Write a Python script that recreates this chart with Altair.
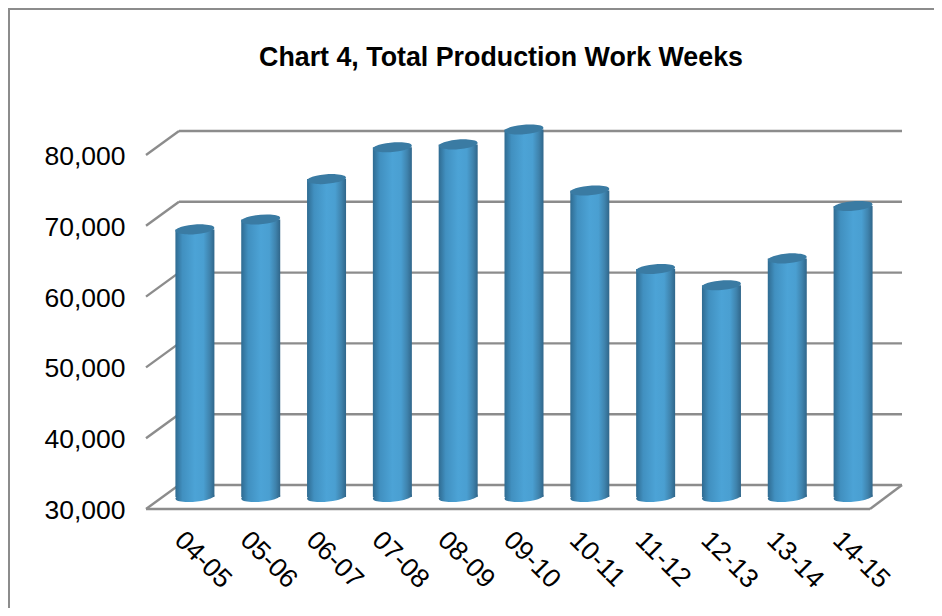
import altair as alt
import pandas as pd

categories = ["04-05", "05-06", "06-07", "07-08", "08-09", "09-10", "10-11", "11-12", "12-13", "13-14", "14-15"]
weeks = [67800, 69200, 74900, 79400, 79800, 81900, 73300, 62200, 59900, 63700, 71100]
grid_values = [30000, 40000, 50000, 60000, 70000, 80000]
TITLE = "Chart 4, Total Production Work Weeks"
FONT = "Liberation Sans"
GRID = "#8c8c8c"
# half of the chart's simulated depth, expressed in axis units (12px at 7.08 px per 1000)
DEPTH = 1695

bars = pd.DataFrame({"cat": categories, "value": weeks, "base": [30000] * len(weeks)})
grid = pd.DataFrame({"value": grid_values})
grid["back"] = grid["value"] + DEPTH
grid["front"] = grid["value"] - DEPTH
floor = grid[grid["value"] == 30000]

grad = alt.LinearGradient(
    gradient="linear", x1=0, x2=1, y1=0, y2=0,
    stops=[
        alt.GradientStop(color="#2f6b91", offset=0),
        alt.GradientStop(color="#4190c0", offset=0.18),
        alt.GradientStop(color="#4ca3d6", offset=0.5),
        alt.GradientStop(color="#4a9fd1", offset=0.72),
        alt.GradientStop(color="#3f83ad", offset=0.88),
        alt.GradientStop(color="#30668a", offset=1),
    ],
)
ELLIPSE = "M-0.996,0.087 A1,0.24,-5,1,1,0.996,-0.087 A1,0.24,-5,1,1,-0.996,0.087Z"
BW = 39

yscale = alt.Scale(domain=[30000, 80000], zero=False, nice=False)
x = alt.X("cat:N", sort=categories, title=None,
          scale=alt.Scale(paddingInner=0, paddingOuter=0),
          axis=alt.Axis(domain=False, ticks=False, grid=False, labelAngle=45, labelAlign="left",
                        labelBaseline="middle", labelPadding=38.5, labelOffset=-16,
                        labelFont=FONT, labelFontSize=26.5, labelColor="#000000"))
y_axis = alt.Axis(values=grid_values, format=",d", domain=False, ticks=False, grid=False,
                  labelOffset=13.5, labelPadding=37,
                  labelFont=FONT, labelFontSize=26.5, labelColor="#000000")

back_lines = alt.Chart(grid).mark_rule(color=GRID, strokeWidth=2.4).encode(
    x=alt.value(17), x2=alt.value(740),
    y=alt.Y("value:Q", title=None, scale=yscale, axis=y_axis),
    yOffset=alt.value(-12))
left_lines = alt.Chart(grid).mark_rule(color=GRID, strokeWidth=2.4).encode(
    x=alt.value(-16), x2=alt.value(17),
    y=alt.Y("front:Q"), y2=alt.Y2("back:Q"))
floor_front = alt.Chart(floor).mark_rule(color=GRID, strokeWidth=2.4).encode(
    x=alt.value(-16), x2=alt.value(708), y=alt.Y("front:Q"))
floor_right = alt.Chart(floor).mark_rule(color=GRID, strokeWidth=2.4).encode(
    x=alt.value(708), x2=alt.value(740),
    y=alt.Y("front:Q"), y2=alt.Y2("back:Q"))

bar_layer = alt.Chart(bars).mark_bar(size=BW, fill=grad, strokeWidth=0).encode(
    x=x, y=alt.Y("value:Q"), y2=alt.Y2("base:Q"))
bottom_cap = alt.Chart(bars).mark_point(shape=ELLIPSE, size=BW * BW, filled=True, fill=grad, opacity=1, strokeWidth=0).encode(
    x=x, y=alt.Y("base:Q"))
top_cap = alt.Chart(bars).mark_point(shape=ELLIPSE, size=BW * BW, filled=True, fill="#3a7ba3", opacity=1, strokeWidth=0).encode(
    x=x, y=alt.Y("value:Q"))

frame_top = alt.Chart(grid.head(1)).mark_rule(color=GRID, strokeWidth=2).encode(
    x=alt.value(-154), x2=alt.value(772), y=alt.value(-134))
frame_left = alt.Chart(grid.head(1)).mark_rule(color=GRID, strokeWidth=2).encode(
    x=alt.value(-153), y=alt.value(-135), y2=alt.value(465))

chart = alt.layer(
    back_lines, frame_top, frame_left, left_lines, floor_front, floor_right,
    bar_layer, bottom_cap, top_cap,
).properties(
    width=724, height=354,
    padding={"left": 154, "top": 135, "right": 48, "bottom": 111},
    autosize=alt.AutoSizeParams(type="none"),
    title=alt.TitleParams(TITLE, font=FONT, fontSize=26.8, fontWeight="bold", color="#000000",
                          anchor="middle", dx=-23, offset=0, dy=65),
).configure_view(stroke=None)

chart.save("out.html", embed_options={"renderer": "svg", "actions": False})
